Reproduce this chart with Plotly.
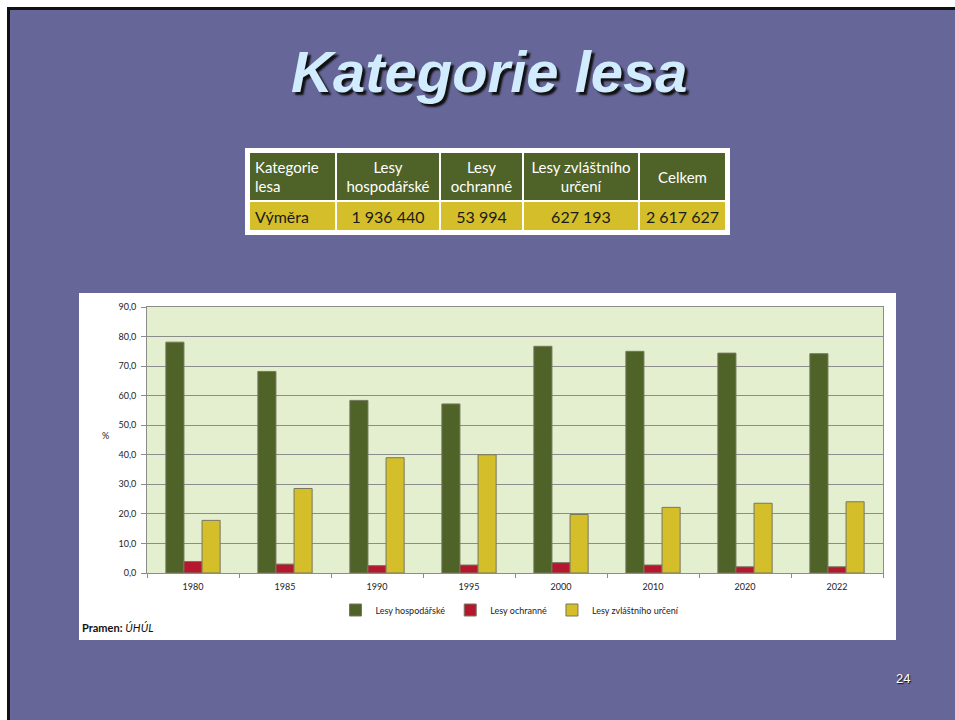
"""Kategorie lesa slide: area table plus share of forest categories over time."""

import plotly.graph_objects as go

W, H = 955, 720

# table data
table_header = ["Kategorie<br>lesa", "Lesy<br>hospodářské", "Lesy<br>ochranné",
                "Lesy zvláštního<br>určení", "Celkem"]
table_row = ["Výměra", "1\u00a0936\u00a0440", "53\u00a0994", "627\u00a0193",
             "2\u00a0617\u00a0627"]

# chart data (% of forest area)
years = ["1980", "1985", "1990", "1995", "2000", "2010", "2020", "2022"]
hospodarske = [78.1, 68.2, 58.4, 57.2, 76.7, 75.0, 74.4, 74.2]
ochranne = [3.9, 3.0, 2.5, 2.7, 3.5, 2.7, 2.1, 2.1]
zvlastni = [17.8, 28.6, 39.0, 40.0, 19.8, 22.2, 23.6, 24.1]

GREEN = "#4f6228"
RED = "#b5182e"
YELLOW = "#d4bf2b"
PURPLE = "#666699"
FONT = "Lato, 'Open Sans', sans-serif"

# table cell edges in page pixels
col_edges = [249, 336, 440, 523, 639, 726]
row_edges = [152, 201, 231]


def px(x):
    return x / W


def py(y):
    return 1 - y / H


fig = go.Figure()

# bars
for name, vals, color in [
    ("Lesy hospodářské", hospodarske, GREEN),
    ("Lesy ochranné", ochranne, RED),
    ("Lesy zvláštního určení", zvlastni, YELLOW),
]:
    fig.add_trace(
        go.Bar(
            x=years,
            y=vals,
            name=name,
            marker=dict(color=color, line=dict(color="#77775f", width=1)),
        )
    )

shapes = [
    # slide background with black top/left edge
    dict(type="rect", xref="paper", yref="paper", x0=px(8.5), x1=px(W + 20),
         y0=py(H + 20), y1=py(8.5), fillcolor=PURPLE,
         line=dict(color="#111111", width=3), layer="below"),
    # white frame behind the table
    dict(type="rect", xref="paper", yref="paper", x0=px(245), x1=px(730),
         y0=py(235), y1=py(148), fillcolor="white", line=dict(width=0),
         layer="below"),
    # white chart panel
    dict(type="rect", xref="paper", yref="paper", x0=px(79), x1=px(896),
         y0=py(640), y1=py(293), fillcolor="white", line=dict(width=0),
         layer="below"),
    # plot area fill
    dict(type="rect", xref="x domain", yref="y domain", x0=0, x1=1, y0=0, y1=1,
         fillcolor="#e3efcf", line=dict(width=0), layer="below"),
]

annotations = [
    dict(text="<b><i>Kategorie lesa</i></b>", x=px(489), y=py(72),
         xref="paper", yref="paper", xanchor="center", yanchor="middle",
         showarrow=False,
         font=dict(family="Arial, 'Liberation Sans', sans-serif", size=58,
                   color="#d2ecff", shadow="3px 3px 2px #111111")),
    dict(text="%", x=px(100), y=py(435), xref="paper", yref="paper",
         showarrow=False, font=dict(family=FONT, size=9, color="#222222")),
    dict(text="<b>Pramen:</b> <i>ÚHÚL</i>", x=px(80), y=py(627),
         xref="paper", yref="paper", xanchor="left", yanchor="middle",
         showarrow=False, font=dict(family=FONT, size=11, color="#111111")),
    dict(text="24", x=px(903), y=py(678), xref="paper", yref="paper",
         xanchor="center", yanchor="middle", showarrow=False,
         font=dict(family="Arial, 'Liberation Sans', sans-serif", size=13,
                   color="white", shadow="1px 1px 1px #111111")),
]

# table cells as boxed annotations
for r, (texts, fill, color, size) in enumerate([
    (table_header, GREEN, "white", 15),
    (table_row, YELLOW, "#1a1a1a", 16),
]):
    y0, y1 = row_edges[r] + 1, row_edges[r + 1] - 1
    for c, text in enumerate(texts):
        x0, x1 = col_edges[c] + 1, col_edges[c + 1] - 1
        pad = 5
        annotations.append(
            dict(text=text, xref="paper", yref="paper",
                 x=px((x0 + x1) / 2), y=py((y0 + y1) / 2),
                 xanchor="center", yanchor="middle", showarrow=False,
                 width=x1 - x0 - 2 * pad, height=y1 - y0 - 2 * pad,
                 borderpad=pad, borderwidth=0, bgcolor=fill,
                 align="left" if c == 0 else "center", valign="middle",
                 font=dict(family=FONT, size=size, color=color)))

fig.update_layout(
    width=W,
    height=H,
    margin=dict(l=0, r=0, t=0, b=0, autoexpand=False),
    paper_bgcolor="white",
    plot_bgcolor="rgba(0,0,0,0)",
    separators=", ",
    barmode="group",
    bargap=0.41,
    bargroupgap=0,
    font=dict(family=FONT, size=9, color="#222222"),
    xaxis=dict(
        domain=[px(147), px(883)],
        type="category",
        automargin=False,
        showgrid=False,
        showline=True,
        mirror=True,
        linecolor="#8c8c8c",
        ticks="outside",
        tickson="boundaries",
        ticklen=4,
        tickcolor="#8c8c8c",
        ticklabelstandoff=5,
        tickfont=dict(size=9, color="#222222"),
    ),
    yaxis=dict(
        domain=[py(573), py(307)],
        range=[0, 90],
        dtick=10,
        tickformat=".1f",
        automargin=False,
        showgrid=True,
        gridcolor="#8c8c8c",
        gridwidth=1,
        showline=True,
        mirror=True,
        linecolor="#8c8c8c",
        ticks="outside",
        ticklen=5,
        tickcolor="#8c8c8c",
        ticklabelstandoff=3,
        tickfont=dict(size=9, color="#222222"),
        zeroline=False,
    ),
    legend=dict(
        orientation="h",
        x=px(510),
        xanchor="center",
        y=py(610),
        yanchor="middle",
        font=dict(family=FONT, size=9, color="#222222"),
        bgcolor="rgba(0,0,0,0)",
        itemwidth=30,
    ),
    shapes=shapes,
    annotations=annotations,
)

fig.write_html(
    "out.html",
    config={"displayModeBar": False},
    post_script="document.body.style.margin='0';document.body.style.overflow='hidden';",
)
